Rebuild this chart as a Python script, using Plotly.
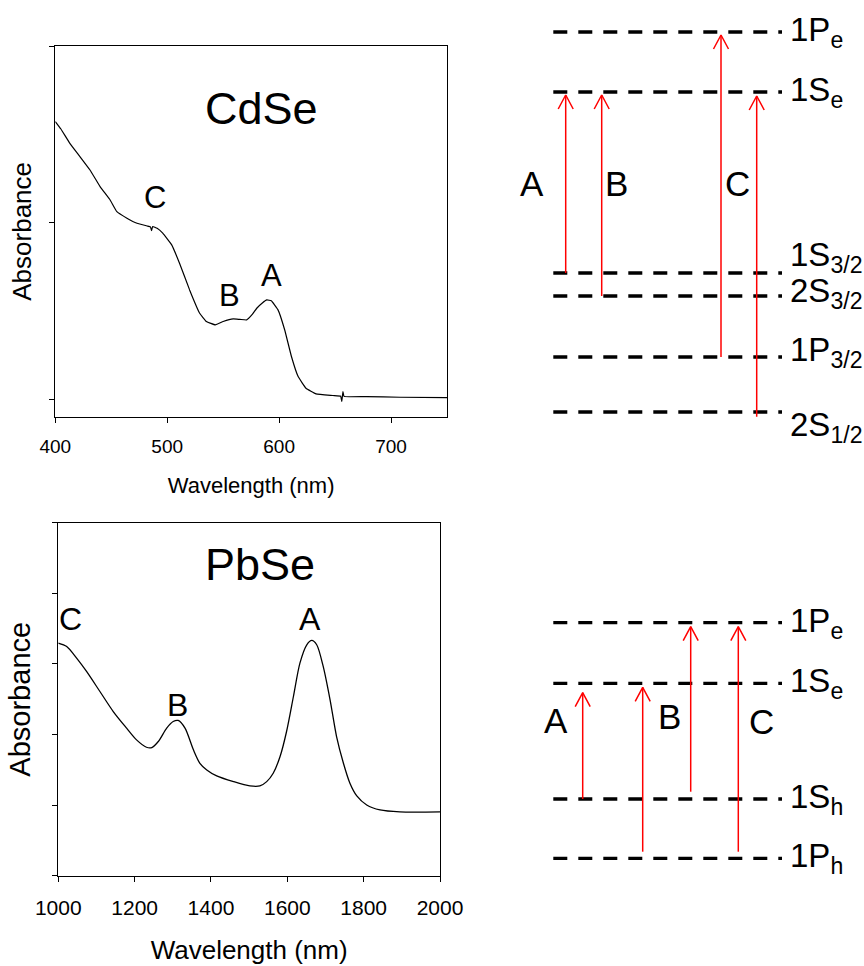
import plotly.graph_objects as go

W, H = 864, 966
FONT = "Liberation Sans, Arial, sans-serif"

# ---- CdSe absorption spectrum ----
cdse_nm = [400, 405, 413, 422, 431, 440, 449, 455, 464, 473, 482, 485, 486, 487,
           491, 496, 504, 511, 520, 529, 535, 543, 550, 559, 565, 571, 576, 580,
           585, 589, 593, 599, 605, 611, 617, 624, 633, 648, 655, 656, 657, 658,
           678, 708, 750]
cdse_abs = [1.572, 1.530, 1.449, 1.374, 1.298, 1.204, 1.128, 1.062, 1.025, 0.996,
            0.981, 0.976, 0.955, 0.978, 0.968, 0.940, 0.874, 0.770, 0.619, 0.487,
            0.440, 0.421, 0.440, 0.455, 0.452, 0.449, 0.480, 0.515, 0.545, 0.562,
            0.557, 0.506, 0.392, 0.242, 0.128, 0.062, 0.030, 0.021, 0.017, -0.013,
            0.043, 0.016, 0.015, 0.011, 0.009]
cdse_peak_text = ["C", "B", "A"]
cdse_peak_nm = [489, 556, 593]
cdse_peak_abs = [1.14, 0.59, 0.70]

# ---- PbSe absorption spectrum ----
pbse_nm = [1000, 1022, 1048, 1074, 1109, 1144, 1179, 1205, 1231, 1245, 1262, 1284,
           1301, 1314, 1332, 1354, 1371, 1389, 1415, 1459, 1502, 1528, 1546, 1563,
           1581, 1598, 1616, 1633, 1651, 1664, 1677, 1694, 1712, 1729, 1747, 1764,
           1782, 1808, 1843, 1895, 2000]
pbse_abs = [3.296, 3.248, 3.083, 2.894, 2.610, 2.326, 2.090, 1.924, 1.820, 1.816,
            1.901, 2.090, 2.184, 2.199, 2.090, 1.783, 1.593, 1.499, 1.414, 1.333,
            1.272, 1.272, 1.333, 1.452, 1.688, 2.043, 2.539, 3.012, 3.272, 3.333,
            3.272, 2.965, 2.492, 1.972, 1.593, 1.310, 1.130, 1.002, 0.931, 0.903,
            0.903]
pbse_peak_text = ["C", "B", "A"]
pbse_peak_nm = [1032, 1313, 1659]
pbse_peak_abs = [3.63, 2.42, 3.63]

# ---- CdSe level scheme (arbitrary energy units) ----
cdse_levels = ["1P<sub>e</sub>", "1S<sub>e</sub>", "1S<sub>3/2</sub>",
               "2S<sub>3/2</sub>", "1P<sub>3/2</sub>", "2S<sub>1/2</sub>"]
cdse_energy = [44.8, 38.8, 20.7, 18.4, 12.3, 6.8]
cdse_level_dy = [0, 0, 16, 3, 5, -15]
cdse_arrow_x = [6.57, 10.17, 22.1, 25.67]
cdse_arrow_from = [20.7, 18.4, 12.3, 6.33]
cdse_arrow_to = [38.5, 38.5, 44.5, 38.4]
cdse_trans_text = ["A", "B", "C"]
cdse_trans_x = [3.2, 11.6, 23.7]
cdse_trans_y = [29.7, 29.7, 29.7]

# ---- PbSe level scheme (arbitrary energy units) ----
pbse_levels = ["1P<sub>e</sub>", "1S<sub>e</sub>", "1S<sub>h</sub>", "1P<sub>h</sub>"]
pbse_energy = [33.73, 27.67, 16.1, 10.17]
pbse_level_dy = [0, 0, 0, 0]
pbse_arrow_x = [8.27, 14.27, 19.07, 23.83]
pbse_arrow_from = [16.1, 10.83, 16.83, 10.83]
pbse_arrow_to = [26.73, 27.27, 33.33, 33.33]
pbse_trans_text = ["A", "B", "C"]
pbse_trans_x = [5.6, 16.9, 26.1]
pbse_trans_y = [24.0, 24.33, 23.83]

LEVEL_X0, LEVEL_X1 = 5.33, 28.2
LABEL_X = 28.75
HEAD_W, HEAD_L = 0.75, 1.4


def px_x(p):
    return p / W


def px_y(p):
    return 1 - p / H


fig = go.Figure()

# spectra
fig.add_trace(go.Scatter(x=cdse_nm, y=cdse_abs, mode="lines",
                         line=dict(color="black", width=1.2, shape="spline",
                                   smoothing=0.3),
                         xaxis="x", yaxis="y", showlegend=False))
fig.add_trace(go.Scatter(x=pbse_nm, y=pbse_abs, mode="lines",
                         line=dict(color="black", width=1.3, shape="spline",
                                   smoothing=0.8),
                         xaxis="x2", yaxis="y2", showlegend=False))

annotations = []


def add_scheme(levels, energy, level_dy, ax_x, ax_y, arrow_x, arrow_from,
               arrow_to, trans_text, trans_x, trans_y):
    for lab, e, dy in zip(levels, energy, level_dy):
        fig.add_trace(go.Scatter(x=[LEVEL_X0, LEVEL_X1], y=[e, e], mode="lines",
                                 line=dict(color="black", width=3.3,
                                           dash="14px,11px"),
                                 xaxis=ax_x, yaxis=ax_y, showlegend=False,
                                 hoverinfo="skip"))
        annotations.append(dict(x=LABEL_X, y=e, xref=ax_x, yref=ax_y, text=lab,
                                showarrow=False, xanchor="left", yanchor="middle",
                                yshift=dy, font=dict(size=33, color="black",
                                                     family=FONT)))
    for x, y0, y1 in zip(arrow_x, arrow_from, arrow_to):
        fig.add_trace(go.Scatter(x=[x, x], y=[y0, y1], mode="lines",
                                 line=dict(color="red", width=1.5),
                                 xaxis=ax_x, yaxis=ax_y, showlegend=False,
                                 hoverinfo="skip"))
        fig.add_trace(go.Scatter(x=[x - HEAD_W, x, x + HEAD_W],
                                 y=[y1 - HEAD_L, y1, y1 - HEAD_L], mode="lines",
                                 line=dict(color="red", width=1.5),
                                 xaxis=ax_x, yaxis=ax_y, showlegend=False,
                                 hoverinfo="skip"))
    for t, x, y in zip(trans_text, trans_x, trans_y):
        annotations.append(dict(x=x, y=y, xref=ax_x, yref=ax_y, text=t,
                                showarrow=False,
                                font=dict(size=35, color="black", family=FONT)))


add_scheme(cdse_levels, cdse_energy, cdse_level_dy, "x3", "y3", cdse_arrow_x,
           cdse_arrow_from, cdse_arrow_to, cdse_trans_text, cdse_trans_x,
           cdse_trans_y)
add_scheme(pbse_levels, pbse_energy, pbse_level_dy, "x4", "y4", pbse_arrow_x,
           pbse_arrow_from, pbse_arrow_to, pbse_trans_text, pbse_trans_x,
           pbse_trans_y)

# sample names and peak letters
annotations.append(dict(x=584, y=1.645, xref="x", yref="y", text="CdSe",
                        showarrow=False, font=dict(size=45, color="black",
                                                   family=FONT)))
for t, x, y in zip(cdse_peak_text, cdse_peak_nm, cdse_peak_abs):
    annotations.append(dict(x=x, y=y, xref="x", yref="y", text=t, showarrow=False,
                            font=dict(size=31, color="black", family=FONT)))
annotations.append(dict(x=1528, y=4.41, xref="x2", yref="y2", text="PbSe",
                        showarrow=False, font=dict(size=45, color="black",
                                                   family=FONT)))
for t, x, y in zip(pbse_peak_text, pbse_peak_nm, pbse_peak_abs):
    annotations.append(dict(x=x, y=y, xref="x2", yref="y2", text=t,
                            showarrow=False,
                            font=dict(size=32, color="black", family=FONT)))

axis_common = dict(showline=True, linecolor="black", linewidth=1, mirror=True,
                   ticks="outside", ticklen=5, tickcolor="black", tickwidth=1,
                   showgrid=False, zeroline=False, automargin=False)
hidden = dict(visible=False, showgrid=False, zeroline=False, fixedrange=True,
              automargin=False)

fig.update_layout(
    width=W, height=H,
    margin=dict(l=0, r=0, t=0, b=0, autoexpand=False),
    paper_bgcolor="white", plot_bgcolor="white",
    font=dict(family=FONT, color="black"),
    showlegend=False,
    xaxis=dict(domain=[px_x(55.3), px_x(447)], range=[400, 750],
               tickvals=[400, 500, 600, 700], anchor="y",
               tickfont=dict(size=19, color="black"), ticklabelstandoff=7,
               title=dict(text="Wavelength (nm)", standoff=22,
                          font=dict(size=22, color="black")),
               **axis_common),
    yaxis=dict(domain=[px_y(416.7), px_y(46)], range=[-0.099, 2.0],
               tickvals=[0, 1, 2], showticklabels=False, anchor="x",
               title=dict(text="Absorbance", standoff=10,
                          font=dict(size=26, color="black")),
               **axis_common),
    xaxis2=dict(domain=[px_x(58.3), px_x(440)], range=[1000, 2000],
                tickvals=[1000, 1200, 1400, 1600, 1800, 2000], anchor="y2",
                tickfont=dict(size=21, color="black"), ticklabelstandoff=8,
                title=dict(text="Wavelength (nm)", standoff=22,
                           font=dict(size=26, color="black")),
                **axis_common),
    yaxis2=dict(domain=[px_y(875.7), px_y(522.8)], range=[0, 5],
                tickvals=[0, 1, 2, 3, 4, 5], showticklabels=False, anchor="x2",
                title=dict(text="Absorbance", standoff=13,
                           font=dict(size=29, color="black")),
                **axis_common),
    xaxis3=dict(domain=[px_x(500), px_x(860)], range=[0, 36], anchor="y3",
                **hidden),
    yaxis3=dict(domain=[px_y(480), px_y(0)], range=[0, 48], anchor="x3",
                **hidden),
    xaxis4=dict(domain=[px_x(500), px_x(860)], range=[0, 36], anchor="y4",
                **hidden),
    yaxis4=dict(domain=[px_y(960), px_y(480)], range=[0, 48], anchor="x4",
                **hidden),
    annotations=annotations,
)

fig.write_html("out.html")
